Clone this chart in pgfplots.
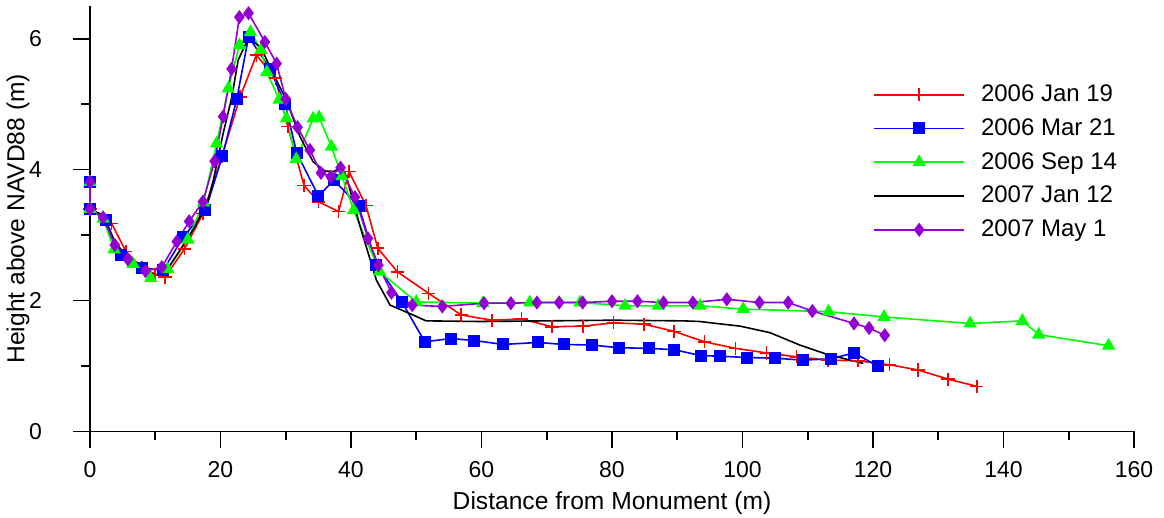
\documentclass[border=0pt]{standalone}
\usepackage{fontspec}
\setmainfont{Liberation Sans}
\usepackage{pgfplots}
\pgfplotsset{compat=1.18}
\definecolor{cpurple}{RGB}{148,0,211}
\begin{document}
\begin{tikzpicture}
\path[use as bounding box] (0,0) rectangle (582pt,259pt);
\begin{axis}[
  at={(45pt,43.25pt)}, anchor=south west,
  scale only axis, width=522pt, height=212.75pt,
  xmin=0, xmax=160, ymin=0, ymax=6.5,
  axis x line*=bottom, axis y line*=left,
  axis line style={line width=0.8pt},
  xtick={0,20,...,160}, ytick={0,2,4,6},
  minor x tick num=1, minor y tick num=1,
  tick align=outside,
  major tick length=8.5pt, minor tick length=4.5pt,
  tick style={line width=0.8pt, black},
  /pgf/number format/assume math mode=true,
  tick label style={font=\fontsize{11.5}{13}\selectfont},
  xticklabel style={yshift=-3pt},
  yticklabel style={anchor=east, xshift=-12pt},
  label style={font=\fontsize{12.3}{14}\selectfont},
  xlabel={Distance from Monument (m)},
  ylabel={Height above NAVD88 (m)},
  ylabel style={at={(axis description cs:-0.069,0.5)}, anchor=center},
  clip=false,
  legend style={draw=none, fill=none, at={(rel axis cs:0.750,0.825)}, anchor=north west,
    font=\fontsize{12}{14}\selectfont, row sep=3pt, inner xsep=0pt, inner ysep=0pt,
    /tikz/every odd column/.append style={column sep=6pt}},
  legend cell align=left,
  legend image code/.code={\draw[mark repeat=2,mark phase=2,#1] plot coordinates {(0pt,0pt) (22.5pt,0pt) (45pt,0pt)};},
  every axis plot/.append style={line width=0.8pt},
]
\addplot[red, mark=+, mark size=3.3pt, mark options={line width=0.8pt}] coordinates {
(0,3.40)(3.3,3.18)(5.5,2.75)(8,2.5)(10,2.4)(11.5,2.36)(14.5,2.79)(17.3,3.33)(20.2,4.2)(23.0,5.11)(25.5,5.75)(28.4,5.4)(30.3,4.66)(32.8,3.76)(35,3.51)(38.1,3.36)(39.7,3.97)(42.3,3.45)(44.1,2.8)(47.1,2.44)(51.9,2.11)(56.9,1.78)(61.6,1.70)(66.1,1.72)(70.8,1.60)(75.6,1.61)(80.2,1.66)(84.9,1.64)(89.5,1.53)(94.2,1.37)(98.9,1.27)(103.7,1.20)(108.3,1.14)(113.1,1.09)(117.7,1.08)(122.5,1.02)(126.9,0.94)(131.5,0.80)(135.9,0.69)
};
\addlegendentry{2006 Jan 19}
\addplot[blue, mark=square*, mark size=2.6pt] coordinates {
(0,3.81)(0,3.40)(2.4,3.23)(4.7,2.69)(8.0,2.50)(11.2,2.46)(14.3,2.97)(17.7,3.38)(20.3,4.21)(22.5,5.08)(24.3,6.03)(27.6,5.54)(29.9,5.0)(31.7,4.25)(35,3.60)(37.4,3.84)(41.2,3.44)(43.9,2.55)(47.8,1.98)(51.3,1.37)(55.3,1.42)(58.9,1.39)(63.3,1.33)(68.7,1.36)(72.6,1.33)(77.0,1.32)(81,1.28)(85.6,1.27)(89.5,1.25)(93.6,1.16)(96.6,1.15)(100.7,1.13)(105,1.12)(109.2,1.09)(113.5,1.11)(117.1,1.20)(120.7,1.00)
};
\addlegendentry{2006 Mar 21}
\addplot[green, mark=triangle*, mark size=3.1pt] coordinates {
(0,3.81)(0,3.40)(2.0,3.25)(3.7,2.78)(6.6,2.56)(9.3,2.34)(11.9,2.48)(15.0,2.93)(17.4,3.5)(19.4,4.40)(21.2,5.24)(22.9,5.90)(24.6,6.10)(26.2,5.83)(27.1,5.49)(29.0,5.07)(30.1,4.78)(31.6,4.16)(34.2,4.78)(35.1,4.80)(37.0,4.35)(38.6,3.90)(40.4,3.38)(44.4,2.44)(50.0,1.98)(60.2,1.96)(67.4,1.97)(75.1,1.97)(82,1.92)(87.1,1.92)(93.5,1.92)(100.1,1.87)(113.2,1.83)(121.7,1.75)(134.9,1.65)(142.9,1.69)(145.4,1.48)(156.1,1.31)
};
\addlegendentry{2006 Sep 14}
\addplot[black, no marks] coordinates {
(0,3.39)(2.0,3.31)(3.6,2.92)(6.1,2.62)(8.7,2.44)(10.5,2.39)(11.8,2.47)(13.8,2.77)(16.1,3.13)(18.1,3.53)(18.9,3.84)(20.4,4.55)(21.7,5.09)(22.7,5.67)(24.3,6.02)(26.3,5.85)(27.8,5.52)(30.1,5.06)(32.2,4.5)(34.2,4.12)(36,3.98)(37.3,3.97)(38.6,4.04)(39.3,3.89)(41.4,3.13)(43.9,2.31)(46,1.93)(49.5,1.78)(51.5,1.69)(60,1.68)(70,1.69)(80,1.70)(91,1.69)(93.5,1.68)(96,1.65)(99.6,1.61)(104.2,1.51)(108.8,1.32)(112.9,1.18)(118.5,1.04)
};
\addlegendentry{2007 Jan 12}
\addplot[cpurple, mark=diamond*, mark size=2.9pt] coordinates {
(0,3.81)(0,3.40)(2.0,3.27)(3.8,2.85)(5.8,2.63)(8.5,2.45)(11.0,2.51)(13.3,2.90)(15.2,3.21)(17.3,3.51)(19.1,4.13)(20.4,4.81)(21.7,5.54)(22.9,6.33)(24.3,6.39)(26.8,5.95)(28.6,5.62)(30.0,5.08)(31.8,4.65)(33.7,4.30)(35.4,3.95)(36.9,3.89)(38.4,4.03)(40.6,3.58)(42.6,2.95)(44.2,2.54)(46.2,2.12)(49.4,1.93)(54,1.91)(60.4,1.96)(64.5,1.96)(68.5,1.97)(71.9,1.97)(75.5,1.97)(80,1.99)(83.9,1.99)(87.9,1.97)(92.4,1.97)(97.6,2.02)(102.6,1.97)(107,1.97)(110.7,1.84)(117.1,1.65)(119.4,1.58)(121.8,1.47)
};
\addlegendentry{2007 May 1}
\end{axis}
\end{tikzpicture}
\end{document}
